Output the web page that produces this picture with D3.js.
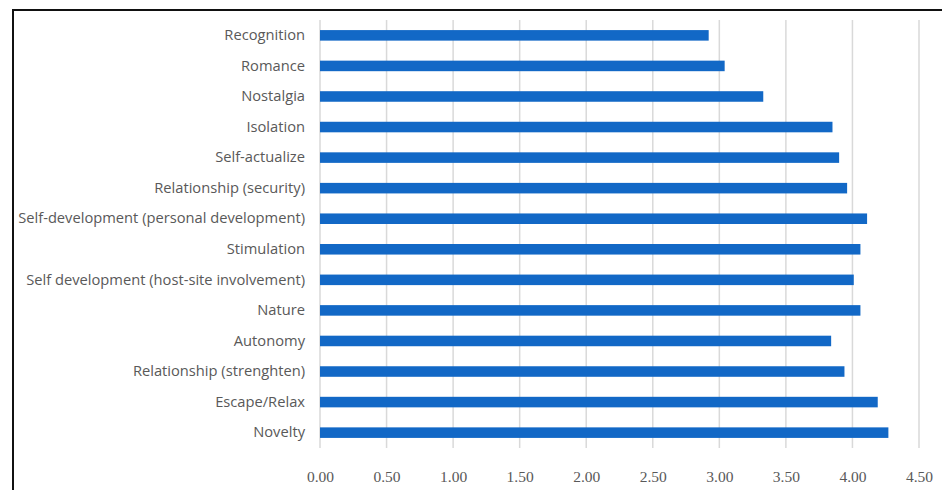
<!DOCTYPE html>
<html>
<head>
<meta charset="utf-8">
<script src="https://cdn.jsdelivr.net/npm/d3@7"></script>
<style>
  body { margin: 0; background: #fff; }
  svg { display: block; }
</style>
</head>
<body>
<svg id="chart" width="942" height="490"></svg>
<script>
// categories top to bottom, as in the picture
const categories = [
  "Recognition",
  "Romance",
  "Nostalgia",
  "Isolation",
  "Self-actualize",
  "Relationship (security)",
  "Self-development (personal development)",
  "Stimulation",
  "Self development (host-site involvement)",
  "Nature",
  "Autonomy",
  "Relationship (strenghten)",
  "Escape/Relax",
  "Novelty"
];
const values = [2.92, 3.04, 3.33, 3.85, 3.90, 3.96, 4.11, 4.06, 4.01, 4.06, 3.84, 3.94, 4.19, 4.27];
const tickValues = [0, 0.5, 1, 1.5, 2, 2.5, 3, 3.5, 4, 4.5];

const svg = d3.select("#chart");

// frame round the figure
svg.append("rect")
  .attr("x", 13).attr("y", 10)
  .attr("width", 940).attr("height", 490)
  .attr("fill", "none")
  .attr("stroke", "#111")
  .attr("stroke-width", 2);

const xScale = d3.scaleLinear()
  .domain([0, 4.5])
  .range([320, 919]);

const yScale = d3.scaleBand()
  .domain(categories)
  .range([20, 448])
  .paddingInner(0.655)
  .paddingOuter(0.33);

// gridlines
svg.append("g")
  .selectAll("line")
  .data(tickValues)
  .join("line")
  .attr("x1", d => xScale(d))
  .attr("x2", d => xScale(d))
  .attr("y1", 20)
  .attr("y2", 448)
  .attr("stroke", "#d9d9d9")
  .attr("stroke-width", 1.5);

// bars
svg.append("g")
  .selectAll("rect")
  .data(values)
  .join("rect")
  .attr("x", xScale(0))
  .attr("y", (d, i) => yScale(categories[i]))
  .attr("width", d => xScale(d) - xScale(0))
  .attr("height", yScale.bandwidth())
  .attr("fill", "#1268c6");

// category labels
const yAxis = d3.axisLeft(yScale).tickSize(0).tickPadding(15);
svg.append("g")
  .attr("transform", "translate(320,0)")
  .call(yAxis)
  .call(g => g.select(".domain").remove())
  .selectAll("text")
  .attr("font-family", "'Open Sans', sans-serif")
  .attr("font-size", 14.7)
  .attr("fill", "#595959");

// x tick labels
const xAxis = d3.axisBottom(xScale)
  .tickValues(tickValues)
  .tickSize(0)
  .tickPadding(0)
  .tickFormat(d3.format(".2f"));
svg.append("g")
  .attr("transform", "translate(0,471)")
  .call(xAxis)
  .call(g => g.select(".domain").remove())
  .selectAll("text")
  .attr("font-family", "'Liberation Serif', 'DejaVu Serif', serif")
  .attr("font-size", 15.5)
  .attr("fill", "#595959");
</script>
</body>
</html>
